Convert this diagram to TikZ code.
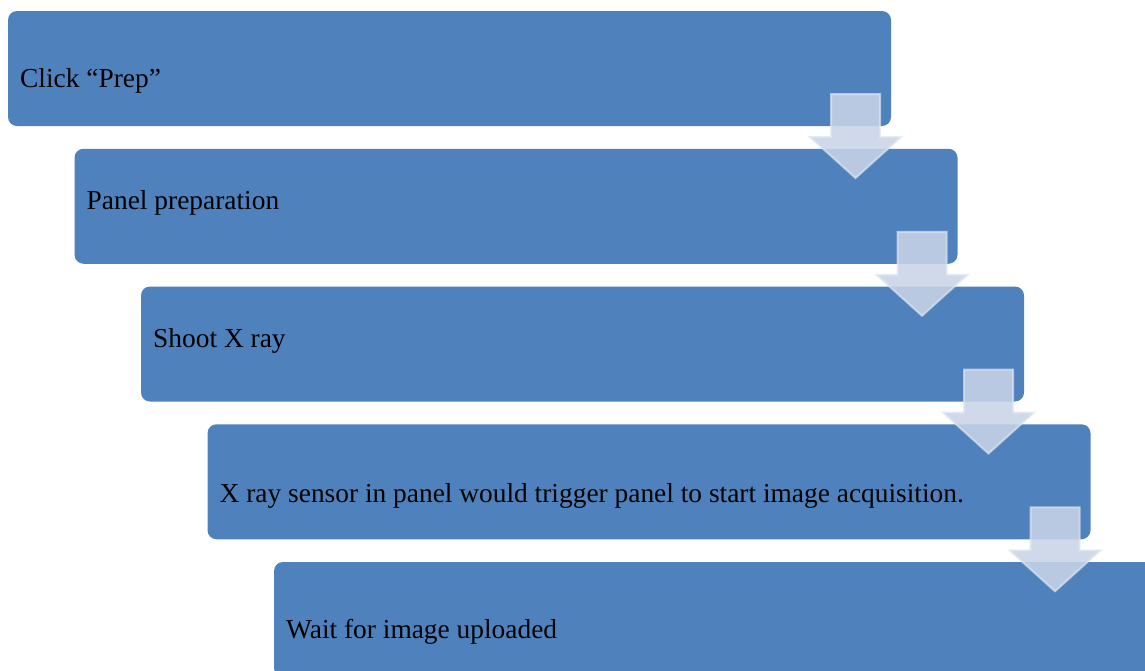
\documentclass[tikz,border=0pt]{standalone}
\usepackage{fontspec}
\setmainfont{Liberation Serif}
\begin{document}
\begin{tikzpicture}[x=1pt,y=-1pt,
  stepbox/.style={fill=boxblue, rounded corners=9pt, draw=none},
  steptext/.style={anchor=base west, inner sep=0pt, font=\fontsize{27.4}{30}\selectfont, text=black},
  downarrow/.style={fill=arrowfill, fill opacity=0.88, draw=arrowline, draw opacity=0.7, line width=2pt, line join=miter}]
\definecolor{boxblue}{RGB}{79,129,189}
\definecolor{arrowfill}{RGB}{200,212,230}
\definecolor{arrowline}{RGB}{222,229,240}
\useasboundingbox (0,0) rectangle (1145,670);
\clip (0,0) rectangle (1145,670);
\foreach \i/\off/\t in {0/76/{Click “Prep”},1/61/{Panel preparation},2/61/{Shoot X ray},3/78/{X ray sensor in panel would trigger panel to start image acquisition.},4/76/{Wait for image uploaded}}{
  \pgfmathsetmacro{\xa}{8+66.5*\i}
  \pgfmathsetmacro{\xb}{891+66.5*\i}
  \pgfmathsetmacro{\ya}{11+137.75*\i}
  \pgfmathsetmacro{\yb}{126+137.75*\i}
  \path[stepbox] (\xa,\ya) rectangle (\xb,\yb);
  \node[steptext] (t\i) at (\xa+12,\ya+\off) {\t};
}
\foreach \i in {0,1,2,3}{
  \pgfmathsetmacro{\cx}{855.5+66.5*\i}
  \pgfmathsetmacro{\tp}{94+137.75*\i}
  \path[downarrow] (\cx-24.5,\tp) -- (\cx+24.5,\tp) -- (\cx+24.5,\tp+43) -- (\cx+45.5,\tp+43) -- (\cx,\tp+84) -- (\cx-45.5,\tp+43) -- (\cx-24.5,\tp+43) -- cycle;
}
\end{tikzpicture}
\end{document}
